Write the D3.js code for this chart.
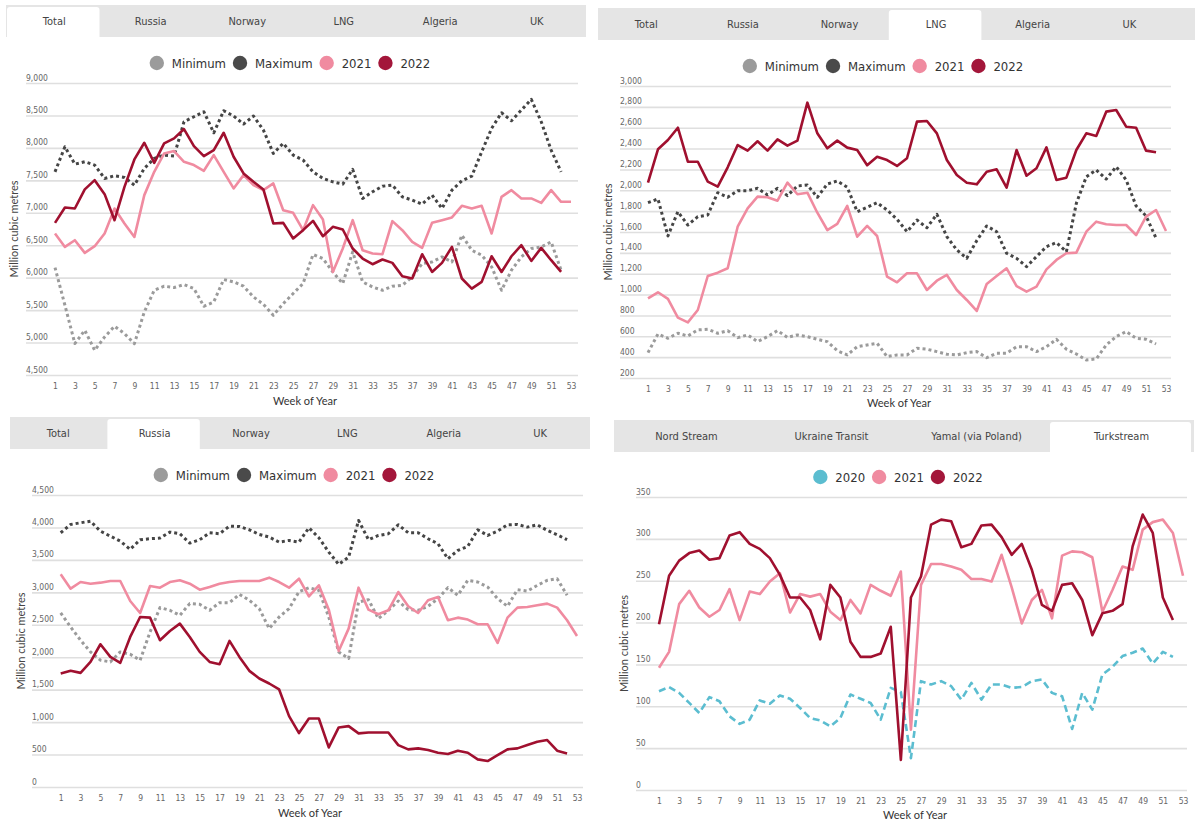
<!DOCTYPE html>
<html><head><meta charset="utf-8">
<script src="https://cdn.jsdelivr.net/npm/d3@7"></script>
<style>
body{margin:0;background:#fff;}
svg{display:block;}
.cond{font-family:"Liberation Sans Narrow","DejaVu Sans Condensed","Roboto Condensed",Roboto,sans-serif;}
.hum{font-family:Lato,"Open Sans",sans-serif;}
</style></head><body>
<svg id="chart" width="1200" height="839"></svg>
<script>
// ---------- DATA ----------
const tabsCountries = ["Total","Russia","Norway","LNG","Algeria","UK"];
const tabsRoutes = ["Nord Stream","Ukraine Transit","Yamal (via Poland)","Turkstream"];
const weekTicks = [1,3,5,7,9,11,13,15,17,19,21,23,25,27,29,31,33,35,37,39,41,43,45,47,49,51,53];

const totalTicks = [4500,5000,5500,6000,6500,7000,7500,8000,8500,9000];
const totalMin = [6156,5575,4984,5189,4880,5086,5251,5138,4984,5472,5806,5868,5848,5894,5832,5559,5626,5971,5935,5868,5703,5590,5420,5600,5755,5910,6357,6295,6088,5910,6398,5935,5857,5806,5868,5883,6012,6218,6243,6320,6243,6655,6423,6346,6166,5806,6115,6320,6449,6474,6551,6115];
const totalMax = [7631,8017,7750,7786,7735,7529,7570,7545,7426,7683,7838,7889,7874,8403,8480,8557,8233,8573,8491,8367,8491,8275,7915,8070,7889,7812,7631,7529,7477,7442,7668,7221,7323,7410,7426,7246,7195,7133,7272,7066,7349,7493,7565,7940,8301,8542,8418,8583,8748,8403,7966,7631];
const total2021 = [6681,6474,6577,6382,6485,6681,7066,6835,6628,7272,7631,7915,7951,7786,7735,7647,7889,7631,7375,7580,7426,7349,7452,7040,7000,6732,7118,6897,6088,6449,6886,6423,6372,6361,6871,6732,6551,6459,6845,6886,6928,7107,7066,7107,6681,7246,7349,7221,7221,7153,7349,7169,7169];
const total2022 = [6845,7082,7066,7360,7503,7287,6886,7400,7822,8079,7770,8070,8147,8290,8028,7874,7966,8233,7863,7606,7477,7360,6835,6845,6604,6732,6876,6639,6783,6742,6449,6295,6207,6280,6228,6022,5987,6361,6088,6228,6474,5987,5832,5935,6330,6088,6330,6500,6258,6459,6269,6088];

const lngTicks = [200,400,600,800,1000,1200,1400,1600,1800,2000,2200,2400,2600,2800,3000];
const lngMin = [443,622,581,629,603,661,667,629,654,587,613,549,597,654,590,613,597,571,549,462,421,500,517,533,405,421,421,485,476,453,428,421,443,453,395,437,437,500,500,453,500,571,476,430,373,383,517,597,645,581,571,526];
const lngMax = [1881,1917,1562,1795,1667,1747,1763,1977,1933,1996,1996,2019,1955,2019,1949,2041,2051,1933,2060,2089,2029,1795,1837,1881,1811,1722,1603,1715,1641,1770,1555,1428,1348,1517,1658,1603,1396,1348,1268,1364,1460,1498,1411,1875,2130,2195,2108,2226,2099,1850,1754,1540];
const lng2021 = [964,1022,958,779,734,852,1178,1210,1252,1651,1827,1939,1933,1900,2073,1962,1977,1785,1619,1677,1850,1555,1658,1562,1172,1118,1204,1204,1044,1133,1188,1044,948,843,1102,1178,1252,1082,1028,1076,1242,1332,1396,1402,1603,1699,1674,1667,1667,1571,1747,1811,1610];
const lng2022 = [2073,2393,2482,2600,2274,2274,2083,2035,2220,2434,2380,2470,2380,2489,2428,2476,2840,2546,2403,2476,2409,2386,2240,2322,2290,2233,2307,2658,2664,2546,2290,2147,2073,2057,2178,2201,2025,2386,2140,2211,2412,2099,2121,2386,2546,2521,2754,2770,2610,2600,2380,2364];

const russiaTicks = [0,500,1000,1500,2000,2500,3000,3500,4000,4500];
const russiaMin = [2682,2466,2262,2082,1954,1928,2082,2046,1954,2390,2764,2723,2646,2826,2815,2723,2841,2841,2969,2877,2749,2441,2620,2749,3010,3072,3031,2620,2082,1980,2851,2887,2595,2723,2866,2733,2723,2785,2903,3072,2954,3185,3159,3082,2903,2785,3041,3020,3108,3185,3210,2954];
const russiaMax = [3918,4046,4072,4097,3943,3866,3789,3662,3811,3826,3836,3928,3903,3759,3811,3918,3903,4021,4015,3964,3892,3851,3774,3800,3774,3995,3841,3620,3431,3543,4108,3811,3877,3903,4041,3918,3918,3826,3749,3518,3646,3708,3964,3877,3943,4041,4046,4005,4041,3954,3887,3811];
const russia2021 = [3277,3057,3159,3133,3149,3174,3174,2866,2682,3097,3072,3159,3185,3133,3041,3082,3133,3159,3174,3174,3174,3226,3159,3072,3210,2938,3108,2733,2097,2441,3072,2733,2662,2723,3005,2785,2682,2877,2928,2569,2610,2580,2508,2508,2220,2610,2764,2774,2800,2826,2764,2569,2328];
const russia2022 = [1749,1790,1759,1928,2200,2005,1913,2313,2620,2610,2262,2405,2518,2313,2082,1928,1892,2251,2005,1790,1672,1595,1503,1092,831,1056,1056,610,918,938,826,841,841,841,646,580,595,569,528,508,559,528,426,400,492,580,595,646,697,723,559,518];

const turkTicks = [0,50,100,150,200,250,300,350];
const turk2020 = [118,123,116,104,92,111,106,88,79,84,107,103,113,109,98,86,83,76,86,114,109,104,84,122,117,38,130,126,130,124,108,128,108,126,126,122,123,130,132,116,112,73,116,96,138,147,160,164,169,151,165,159];
const turk2021 = [146,165,222,238,218,207,215,240,203,237,234,249,259,212,234,231,234,213,203,227,211,245,238,232,261,72,245,270,270,267,263,252,252,249,281,242,199,227,239,205,280,285,284,278,213,239,267,263,311,320,323,307,256];
const turk2022 = [198,256,274,283,286,275,277,304,308,294,288,277,257,230,230,215,180,245,230,177,159,159,163,195,36,230,255,317,323,321,290,294,316,317,302,281,294,263,221,214,245,247,227,185,211,214,222,291,329,307,230,203];

// ---------- STYLES ----------
const ST = {
  min:  {name:"Minimum", color:"#9b9b9b", width:3, dash:"3,3"},
  max:  {name:"Maximum", color:"#454545", width:3, dash:"3,3"},
  y2020:{name:"2020", color:"#5bbdd0", width:2.6, dash:"7,4"},
  y2021:{name:"2021", color:"#f08ba0", width:2.6, dash:null},
  y2022:{name:"2022", color:"#a0102f", width:2.6, dash:null}
};
const legendColors = {Minimum:"#9b9b9b", Maximum:"#4a4a4a", "2020":"#5bbdd0", "2021":"#f08ba0", "2022":"#a3163a"};

const svg = d3.select("#chart");

function drawPanel(cfg){
  const g = svg.append("g");
  // tabs
  const t = cfg.tabs;
  g.append("rect").attr("x",t.x).attr("y",t.y).attr("width",t.w).attr("height",t.h).attr("fill","#e5e5e5");
  const ax = t.x + t.active*t.tabW + 1;
  const aw = t.tabW - 4, ay = t.y + 2, ah = t.h - 2, r = 3;
  g.append("path").attr("fill","#fff")
    .attr("d",`M${ax},${ay+ah}V${ay+r}Q${ax},${ay} ${ax+r},${ay}H${ax+aw-r}Q${ax+aw},${ay} ${ax+aw},${ay+r}V${ay+ah}Z`);
  g.selectAll(".tab").data(t.labels).join("text").attr("class","cond")
    .attr("x",(d,i)=>t.x + t.tabW*(i+0.5)).attr("y",t.y + t.h/2 + 4)
    .attr("text-anchor","middle").attr("font-size",11).attr("fill","#444").text(d=>d);

  // legend
  const L = cfg.legend;
  const lg = g.append("g");
  let cx = 0;
  cfg.series.forEach(s=>{
    const st = ST[s.style];
    lg.append("circle").attr("cx",cx+7).attr("cy",0).attr("r",7.2).attr("fill",legendColors[st.name]);
    const tx = lg.append("text").attr("class","cond").attr("x",cx+22).attr("y",4.5)
      .attr("font-size",13).attr("fill","#333").text(st.name);
    cx += 22 + tx.node().getComputedTextLength() + 7;
  });
  const lw = cx - 7;
  lg.attr("transform",`translate(${L.cx - lw/2},${L.y})`);

  // scales
  const P = cfg.plot;
  const x = d3.scaleLinear().domain([1,53]).range([P.x1,P.x53]);
  const y = d3.scaleLinear().domain(P.domain).range([P.yBot,P.yTop]);

  // gridlines + y labels
  const yAxis = d3.axisLeft(y).tickValues(cfg.yTicks).tickSize(-(P.gx1-P.gx0)).tickFormat(d3.format(","));
  const ya = g.append("g").attr("transform",`translate(${P.gx0},0)`).call(yAxis);
  ya.select(".domain").remove();
  ya.selectAll(".tick line").attr("stroke","#dfdfdf").attr("stroke-width",1.6);
  ya.selectAll(".tick text").attr("class","cond").attr("x",0).attr("dy",null).attr("y",-3)
    .attr("text-anchor","start").attr("font-size",8.5).attr("fill","#666");

  // x labels
  const xAxis = d3.axisBottom(x).tickValues(weekTicks).tickSize(0).tickFormat(d3.format("d"));
  const xa = g.append("g").attr("transform",`translate(0,${P.yBot})`).call(xAxis);
  xa.select(".domain").remove();
  xa.selectAll(".tick text").attr("class","cond").attr("dy",null).attr("y",P.xLabDy)
    .attr("font-size",8.5).attr("fill","#666");

  // titles
  g.append("text").attr("class","hum").attr("font-size",11).attr("fill","#444")
    .attr("text-anchor","middle").attr("transform",`translate(${cfg.yTitleX},${(P.yTop+P.yBot)/2}) rotate(-90)`)
    .text("Million cubic metres");
  g.append("text").attr("class","hum").attr("font-size",11).attr("fill","#333")
    .attr("text-anchor","middle").attr("x",cfg.xTitle.x).attr("y",cfg.xTitle.y).text("Week of Year");

  // lines
  const line = d3.line().x((d,i)=>x(i+1)).y(d=>y(d));
  cfg.series.forEach(s=>{
    const st = ST[s.style];
    g.append("path").datum(s.values).attr("fill","none").attr("stroke",st.color)
      .attr("stroke-width",st.width).attr("stroke-linejoin","round")
      .attr("stroke-dasharray",st.dash).attr("d",line);
  });
}

drawPanel({
  tabs:{x:6,y:5,w:580,h:32,tabW:96.5,labels:tabsCountries,active:0},
  legend:{cx:290,y:63},
  plot:{gx0:26,gx1:578,x1:55,x53:571,yTop:83,yBot:375,domain:[4500,9000],xLabDy:14},
  yTicks:totalTicks, yTitleX:18, xTitle:{x:305,y:405},
  series:[{style:"min",values:totalMin},{style:"max",values:totalMax},{style:"y2021",values:total2021},{style:"y2022",values:total2022}]
});
drawPanel({
  tabs:{x:598,y:8,w:597,h:32,tabW:96.6,labels:tabsCountries,active:3},
  legend:{cx:883,y:66},
  plot:{gx0:620,gx1:1171,x1:648,x53:1166,yTop:86,yBot:378,domain:[200,3000],xLabDy:14},
  yTicks:lngTicks, yTitleX:612, xTitle:{x:899,y:407},
  series:[{style:"min",values:lngMin},{style:"max",values:lngMax},{style:"y2021",values:lng2021},{style:"y2022",values:lng2022}]
});
drawPanel({
  tabs:{x:10,y:417,w:580,h:32,tabW:96.4,labels:tabsCountries,active:1},
  legend:{cx:294,y:475},
  plot:{gx0:32,gx1:583,x1:60.7,x53:577,yTop:495,yBot:787,domain:[0,4500],xLabDy:14},
  yTicks:russiaTicks, yTitleX:25, xTitle:{x:310,y:817},
  series:[{style:"min",values:russiaMin},{style:"max",values:russiaMax},{style:"y2021",values:russia2021},{style:"y2022",values:russia2022}]
});
drawPanel({
  tabs:{x:614,y:420,w:580,h:32,tabW:145,labels:tabsRoutes,active:3},
  legend:{cx:898,y:477},
  plot:{gx0:636,gx1:1187,x1:659,x53:1183,yTop:497,yBot:790,domain:[0,350],xLabDy:14},
  yTicks:turkTicks, yTitleX:628, xTitle:{x:915,y:819},
  series:[{style:"y2020",values:turk2020},{style:"y2021",values:turk2021},{style:"y2022",values:turk2022}]
});
</script>
</body></html>
